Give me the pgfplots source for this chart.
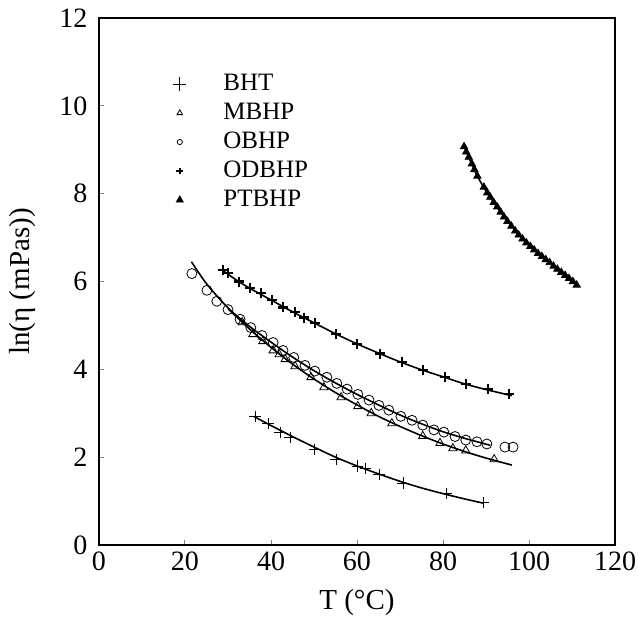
\documentclass[border=0pt]{standalone}
\usepackage{fontspec}
\setmainfont{Liberation Serif}
\usepackage{pgfplots}
\pgfplotsset{compat=1.18}
\begin{document}
\begin{tikzpicture}
\begin{axis}[
  scale only axis, width=258pt, height=263.5pt,
  xmin=0, xmax=120, ymin=0, ymax=12,
  xtick={0,20,40,60,80,100,120}, ytick={0,2,4,6,8,10,12},
  xticklabels={0,20,40,60,80,100,120},
  yticklabels={0,2,4,6,8,10,12},
  tick pos=left, tick align=inside, major tick length=2.5pt,
  tick style={gray, line width=0.5pt},
  axis line style={line width=0.8pt},
  ticklabel style={font=\fontsize{14}{16}\selectfont},
  yticklabel style={xshift=-2.3pt},
  xlabel={T (°C)}, ylabel={ln(η (mPas))},
  every axis x label/.style={at={(axis description cs:0.5,-0.110)}, anchor=center, font=\fontsize{14.5}{17}\selectfont},
  every axis y label/.style={at={(axis description cs:-0.149,0.5)}, anchor=center, rotate=90, font=\fontsize{14.5}{17}\selectfont},
  legend style={at={(rel axis cs:0.143,0.903)}, anchor=north west, draw=none, fill=none,
    font=\fontsize{12.5}{14}\selectfont, inner sep=0pt, column sep=16.5pt,
    nodes={inner ysep=2.25pt, text height=8pt, text depth=2pt}},
  legend cell align=left,
]
\coordinate (O) at (rel axis cs:0,0);
% BHT
\addplot[only marks, mark=+, mark size=2.8pt, line width=0.4pt,
  legend image post style={mark size=3.3pt}] coordinates {
(36.3,2.93)(39.3,2.77)(42.1,2.57)(44.4,2.45)(50.2,2.18)(55.1,1.95)(60.2,1.80)(61.9,1.74)(65.1,1.61)(70.7,1.41)(80.9,1.18)(89.3,0.96)};
\addlegendentry{BHT}
% MBHP
\addplot[only marks, mark=triangle, mark size=2.4pt, line width=0.4pt,
  legend image post style={mark size=1.6pt}] coordinates {
(33.3,5.07)(35.8,4.80)(38.1,4.64)(40.5,4.43)(41.9,4.34)(43.3,4.23)(45.6,4.07)(49.3,3.82)(52.3,3.59)(56.3,3.36)(60.2,3.16)(63.3,3.00)(68.1,2.77)(75.3,2.48)(79.3,2.32)(82.3,2.20)(85.3,2.15)(91.9,1.95)};
\addlegendentry{MBHP}
% OBHP
\addplot[only marks, mark=o, mark size=2.5pt, line width=0.4pt,
  legend image post style={mark size=1.3pt}] coordinates {
(21.6,6.18)(25.1,5.80)(27.4,5.55)(30.0,5.36)(32.8,5.14)(35.3,4.95)(37.9,4.77)(40.5,4.61)(42.8,4.43)(45.3,4.27)(47.9,4.09)(50.2,3.96)(53.0,3.82)(55.3,3.68)(57.7,3.55)(60.2,3.43)(62.8,3.30)(65.1,3.18)(67.4,3.07)(70.2,2.93)(72.8,2.84)(75.3,2.73)(77.9,2.62)(80.2,2.57)(82.8,2.47)(85.3,2.39)(87.9,2.35)(90.2,2.30)(94.4,2.23)(96.3,2.23)};
\addlegendentry{OBHP}
% ODBHP
\addplot[only marks, mark=+, mark size=2.5pt, line width=1.1pt,
  legend image post style={mark size=1.7pt}] coordinates {
(28.8,6.27)(30.0,6.20)(32.6,6.00)(35.1,5.86)(37.7,5.73)(40.2,5.57)(42.8,5.41)(45.6,5.30)(47.7,5.18)(50.2,5.05)(55.1,4.80)(60.0,4.57)(65.3,4.36)(70.5,4.16)(75.3,3.98)(80.5,3.82)(85.3,3.66)(90.5,3.55)(95.3,3.43)};
\addlegendentry{ODBHP}
% PTBHP
\addplot[only marks, mark=triangle*, mark size=2.1pt,
  legend image post style={mark size=2pt}] coordinates {
(84.9,9.07)(85.4,8.95)(86.0,8.83)(86.7,8.68)(87.3,8.55)(88.0,8.40)(89.5,8.15)(90.3,8.02)(91.0,7.92)(91.8,7.80)(92.6,7.70)(93.4,7.58)(94.2,7.47)(95.0,7.37)(95.9,7.26)(96.8,7.15)(97.6,7.06)(98.5,6.97)(99.4,6.88)(100.3,6.80)(101.2,6.72)(102.1,6.64)(103.0,6.57)(103.9,6.50)(104.8,6.43)(105.7,6.35)(106.6,6.28)(107.5,6.21)(108.4,6.14)(109.3,6.07)(110.2,6.00)(111.1,5.92)};
\addlegendentry{PTBHP}
% fitted curves
\addplot[forget plot, smooth, line width=0.8pt] coordinates {
(36,2.93)(40,2.72)(45,2.47)(50,2.23)(55,2.00)(60,1.80)(65,1.62)(70,1.45)(75,1.30)(80,1.17)(85,1.05)(89.5,0.95)};
\addplot[forget plot, smooth, line width=0.8pt] coordinates {
(30,5.38)(35,4.92)(40,4.50)(45,4.12)(50,3.78)(55,3.47)(60,3.19)(65,2.93)(70,2.70)(75,2.49)(80,2.30)(85,2.13)(90,1.98)(96,1.82)};
\addplot[forget plot, smooth, line width=0.8pt] coordinates {
(21.5,6.45)(25,5.95)(30,5.40)(35,4.98)(40,4.62)(45,4.28)(50,3.97)(55,3.69)(60,3.43)(65,3.19)(70,2.96)(75,2.76)(80,2.58)(85,2.43)(91,2.27)};
\addplot[forget plot, smooth, line width=0.8pt] coordinates {
(28.8,6.25)(32,6.03)(35,5.85)(40,5.58)(45,5.31)(50,5.06)(55,4.81)(60,4.58)(65,4.37)(70,4.17)(75,3.99)(80,3.83)(85,3.67)(90,3.54)(96,3.40)};
\addplot[forget plot, smooth, line width=0.8pt] coordinates {
(84.9,9.08)(86,8.82)(88,8.40)(90,8.06)(92,7.77)(94,7.50)(96,7.26)(98,7.02)(100,6.83)(102,6.65)(104,6.49)(106,6.33)(108,6.18)(111.2,5.92)};
\end{axis}
\pgfresetboundingbox
\path[use as bounding box] (O) ++(-49.5pt,-36.5pt) rectangle ++(319pt,309pt);
\end{tikzpicture}
\end{document}
